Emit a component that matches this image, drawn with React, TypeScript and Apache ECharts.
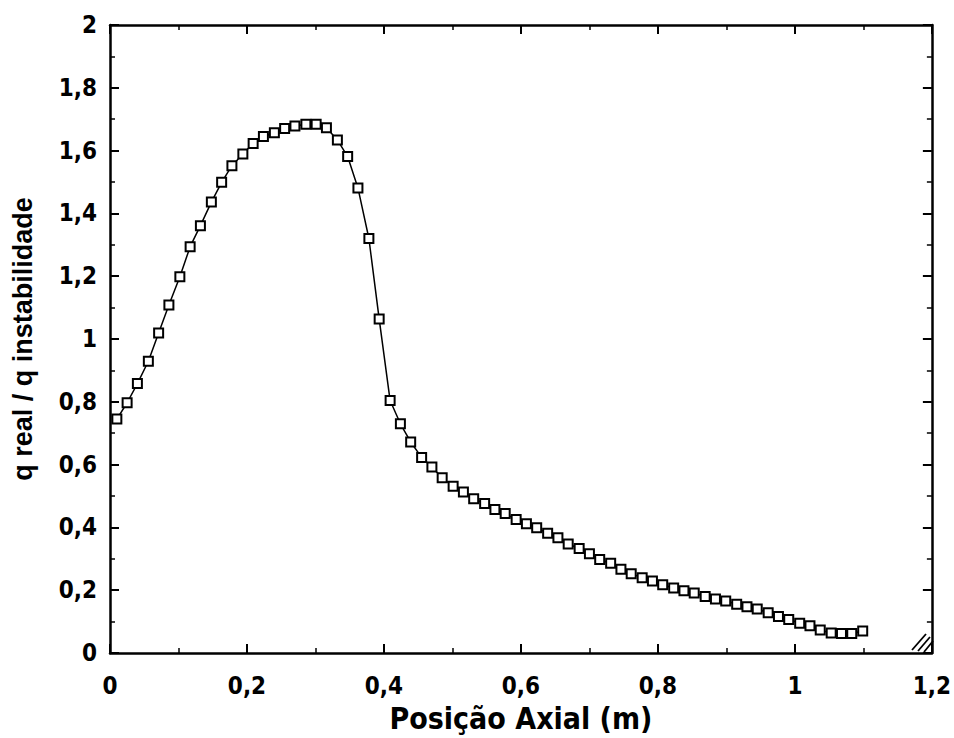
import React, { useEffect, useRef } from "react";
import * as echarts from "echarts";

const xValues = [
  0.010, 0.025, 0.040, 0.056, 0.071, 0.086, 0.102, 0.117, 0.132, 0.148,
  0.163, 0.178, 0.194, 0.209, 0.224, 0.240, 0.255, 0.270, 0.286, 0.301,
  0.316, 0.332, 0.347, 0.362, 0.378, 0.393, 0.409, 0.424, 0.439, 0.455,
  0.470, 0.485, 0.501, 0.516, 0.531, 0.547, 0.562, 0.577, 0.593, 0.608,
  0.623, 0.639, 0.654, 0.669, 0.685, 0.700, 0.715, 0.731, 0.746, 0.761,
  0.777, 0.792, 0.807, 0.823, 0.838, 0.853, 0.869, 0.884, 0.899, 0.915,
  0.930, 0.945, 0.961, 0.976, 0.991, 1.007, 1.022, 1.037, 1.053, 1.068,
  1.083, 1.099,
];

const yValues = [
  0.745, 0.797, 0.858, 0.929, 1.019, 1.108, 1.198, 1.294, 1.361, 1.436,
  1.499, 1.552, 1.589, 1.623, 1.645, 1.657, 1.670, 1.678, 1.684, 1.684,
  1.673, 1.634, 1.581, 1.481, 1.320, 1.064, 0.804, 0.730, 0.672, 0.623,
  0.592, 0.558, 0.531, 0.513, 0.491, 0.476, 0.457, 0.444, 0.425, 0.412,
  0.399, 0.381, 0.367, 0.347, 0.333, 0.316, 0.298, 0.286, 0.267, 0.252,
  0.240, 0.229, 0.217, 0.207, 0.198, 0.191, 0.180, 0.172, 0.166, 0.155,
  0.147, 0.140, 0.128, 0.116, 0.107, 0.095, 0.087, 0.073, 0.064, 0.062,
  0.062, 0.070,
];

const xTitle = "Posição Axial (m)";
const yTitle = "q real / q instabilidade";

const narrow = "'Liberation Sans Narrow', 'DejaVu Sans Condensed', 'Arial Narrow', sans-serif";
const wide = "'Liberation Sans', Arial, sans-serif";

const fmt = (v: number) => String(Math.round(v * 10) / 10).replace(".", ",");

export default function App() {
  const ref = useRef<HTMLDivElement>(null);
  useEffect(() => {
    if (!ref.current) return;
    const chart = echarts.init(ref.current, null, { renderer: "svg" });
    const axisLine = { show: true, onZero: false, lineStyle: { color: "#000", width: 2.5 } };
    const tick = { show: true, inside: true, length: 9, lineStyle: { color: "#000", width: 2 } };
    const minor = { show: true, splitNumber: 2, length: 5, lineStyle: { color: "#000", width: 1.5 } };
    chart.setOption({
      animation: false,
      backgroundColor: "#fff",
      grid: { left: 110, top: 25, right: 16, bottom: 81, containLabel: false },
      xAxis: [
        {
          type: "value", min: 0, max: 1.2, interval: 0.2,
          axisLine, axisTick: tick, minorTick: minor, splitLine: { show: false },
          axisLabel: {
            formatter: fmt, color: "#000", fontFamily: narrow, fontWeight: "bold",
            fontSize: 24, margin: 21,
          },
          name: xTitle, nameLocation: "middle", nameGap: 50,
          nameTextStyle: { color: "#000", fontFamily: narrow, fontWeight: "bold", fontSize: 30 },
        },
        {
          type: "value", min: 0, max: 1.2, interval: 0.2, position: "top",
          axisLine, axisTick: tick, minorTick: minor, splitLine: { show: false },
          axisLabel: { show: false },
        },
      ],
      yAxis: [
        {
          type: "value", min: 0, max: 2, interval: 0.2,
          axisLine, axisTick: tick, minorTick: minor, splitLine: { show: false },
          axisLabel: {
            formatter: fmt, color: "#000", fontFamily: narrow, fontWeight: "bold",
            fontSize: 24, margin: 13,
          },
          name: yTitle, nameLocation: "middle", nameGap: 74, nameRotate: 90,
          nameTextStyle: { color: "#000", fontFamily: wide, fontWeight: "bold", fontSize: 27 },
        },
        {
          type: "value", min: 0, max: 2, interval: 0.2, position: "right",
          axisLine, axisTick: tick, minorTick: minor, splitLine: { show: false },
          axisLabel: { show: false },
        },
      ],
      series: [
        {
          type: "line",
          data: xValues.map((x, i) => [x, yValues[i]]),
          symbol: "rect",
          symbolSize: 9,
          lineStyle: { color: "#000", width: 1.5 },
          itemStyle: { color: "#fff", borderColor: "#000", borderWidth: 2 },
        },
      ],
      graphic: [
        { type: "line", shape: { x1: 912, y1: 650, x2: 926, y2: 634 }, style: { stroke: "#000", lineWidth: 1.8 } },
        { type: "line", shape: { x1: 918, y1: 651, x2: 930, y2: 637 }, style: { stroke: "#000", lineWidth: 1.8 } },
        { type: "line", shape: { x1: 924, y1: 652, x2: 933, y2: 641 }, style: { stroke: "#000", lineWidth: 1.8 } },
      ],
    });
    return () => chart.dispose();
  }, []);
  return (
    <div
      ref={ref}
      style={{ position: "fixed", left: 0, top: 0, width: 954, height: 738, background: "#fff" }}
    />
  );
}
